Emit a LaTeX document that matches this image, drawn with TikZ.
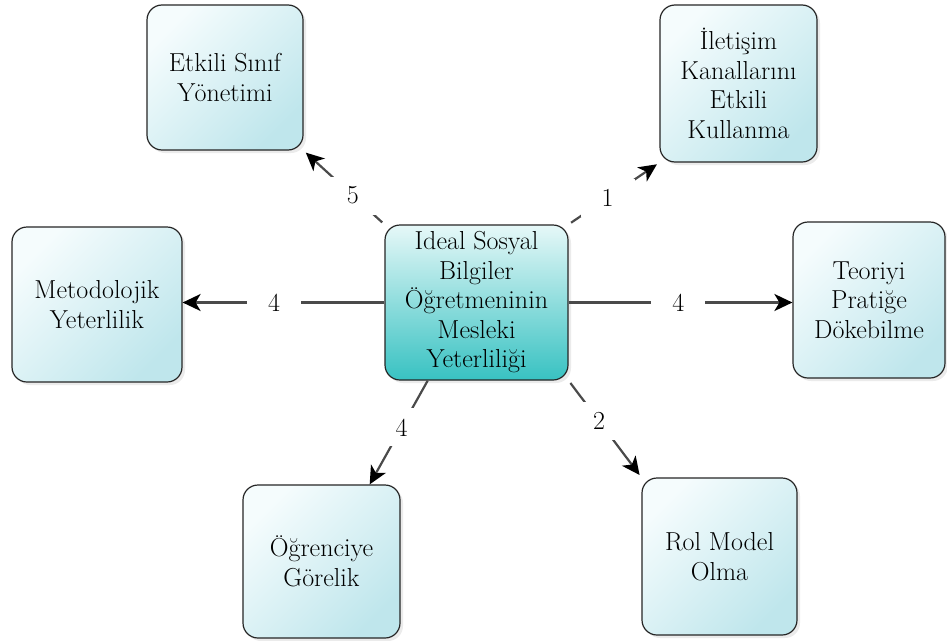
\documentclass[tikz,border=0pt]{standalone}
\usepackage{fontspec}
\usetikzlibrary{arrows.meta,shadows}
\definecolor{boxlight}{HTML}{F5FCFD}
\definecolor{boxdark}{HTML}{BFE6EC}
\definecolor{cenlight}{HTML}{E6F8F8}
\definecolor{cendark}{HTML}{38C2C2}
\definecolor{linegray}{HTML}{4A4A4A}
\begin{document}
\begin{tikzpicture}[x=1pt,y=-1pt,
  txt/.style={font=\fontsize{26}{29.5}\selectfont},
  box/.style={txt, draw=black!85, line width=1.2pt, rounded corners=15pt,
    align=center, inner sep=0pt, top color=boxlight, bottom color=boxdark,
    shading angle=45,
    drop shadow={shadow xshift=3pt, shadow yshift=-3pt, opacity=0.08, fill=black}},
  cenbox/.style={box, top color=cenlight, bottom color=cendark},
  conn/.style={draw=linegray, line width=2.2pt,
    -{Stealth[length=18pt,width=17pt,inset=5pt,color=black]}},
  lbl/.style={txt, fill=white, inner sep=0pt, minimum width=54pt, minimum height=38pt}
]
\useasboundingbox (0,0) rectangle (947,640);
\fill[white] (0,0) rectangle (947,640);

\node[cenbox, minimum width=183pt, minimum height=155pt] (c) at (476.5,302.5)
  {Ideal Sosyal\\Bilgiler\\Öğretmeninin\\Mesleki\\Yeterliliği};
\node[box, minimum width=156pt, minimum height=145pt] (e) at (225,77.5)
  {Etkili Sınıf\\Yönetimi};
\node[box, minimum width=157pt, minimum height=157pt] (i) at (738.5,83.5)
  {İletişim\\Kanallarını\\Etkili\\Kullanma};
\node[box, minimum width=170pt, minimum height=155pt] (m) at (97,304.5)
  {Metodolojik\\Yeterlilik};
\node[box, minimum width=152pt, minimum height=156pt] (t) at (869,300)
  {Teoriyi\\Pratiğe\\Dökebilme};
\node[box, minimum width=157pt, minimum height=153pt] (o) at (321.5,561.5)
  {Öğrenciye\\Görelik};
\node[box, minimum width=155pt, minimum height=157pt] (r) at (719.5,556.5)
  {Rol Model\\Olma};

\draw[conn, shorten <=3pt, shorten >=3pt] (c.north east) -- node[lbl, pos=0.43] (l1) {1} (i.south west);
\draw[conn, shorten <=3pt, shorten >=3pt] (c.north west) -- node[lbl, pos=0.39] (l5) {5} (e.south east);
\draw[conn] (c.west) -- node[lbl, pos=0.547] (l4a) {4} (c.west -| m.east);
\draw[conn] (c.east) -- node[lbl, pos=0.49] (l4b) {4} (c.east -| t.west);
\draw[conn] (c.238) -- node[lbl, pos=0.45] (l4c) {4} (o.58);
\draw[conn, shorten <=3pt, shorten >=3pt] (c.south east) -- node[lbl, pos=0.42] (l2) {2} (r.north west);
\end{tikzpicture}
\end{document}
